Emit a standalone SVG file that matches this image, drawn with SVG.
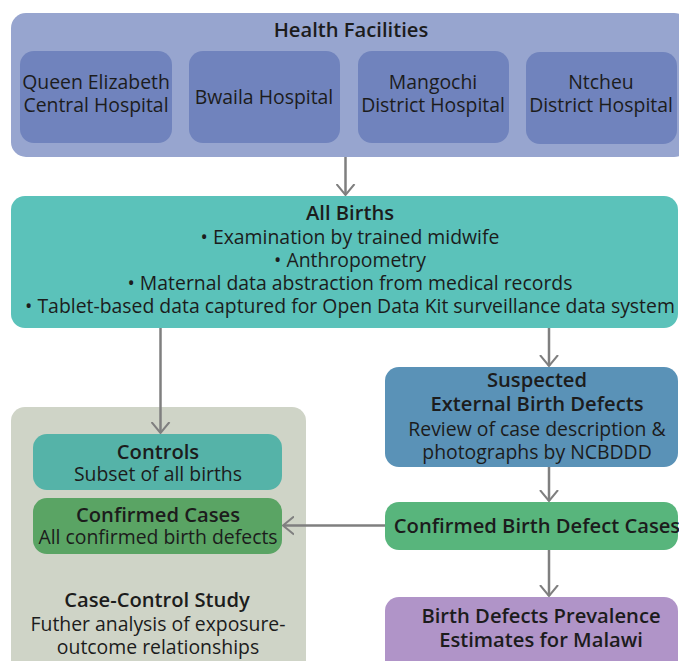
<svg xmlns="http://www.w3.org/2000/svg" width="679" height="661" viewBox="0 0 679 661">
  <defs>
    <marker id="arrow" viewBox="0 0 12 20" refX="11" refY="10" markerWidth="12" markerHeight="20" markerUnits="userSpaceOnUse" orient="auto">
      <path d="M0,1 L11,10 L0,19" fill="none" stroke="#7f7f7f" stroke-width="2"/>
    </marker>
    <style>
      text { font-family: "Open Sans", "Noto Sans", "DejaVu Sans", sans-serif; font-size: 19.4px; fill: #1c1c1c; text-anchor: middle; }
      .b { font-weight: 600; font-size: 20.2px; }
      .link { stroke: #7f7f7f; stroke-width: 2.5; fill: none; marker-end: url(#arrow); }
    </style>
  </defs>

  <!-- Health facilities -->
  <g id="health-facilities">
    <rect x="11" y="13" width="678" height="144" rx="15" fill="#97a5cf"/>
    <text class="b" x="351" y="37">Health Facilities</text>
  </g>
  <g id="queen-elizabeth">
    <rect x="20" y="51" width="152" height="92" rx="14" fill="#7083bd"/>
    <text x="96" y="89">Queen Elizabeth</text>
    <text x="96" y="112">Central Hospital</text>
  </g>
  <g id="bwaila">
    <rect x="189" y="51" width="151" height="92" rx="14" fill="#7083bd"/>
    <text x="264" y="104">Bwaila Hospital</text>
  </g>
  <g id="mangochi">
    <rect x="358" y="51" width="151" height="92" rx="14" fill="#7083bd"/>
    <text x="433" y="89">Mangochi</text>
    <text x="433" y="112">District Hospital</text>
  </g>
  <g id="ntcheu">
    <rect x="526" y="52" width="151" height="92" rx="14" fill="#7083bd"/>
    <text x="601" y="89">Ntcheu</text>
    <text x="601" y="112">District Hospital</text>
  </g>

  <!-- All births -->
  <g id="all-births">
    <rect x="11" y="196" width="667" height="132" rx="14" fill="#5bc2ba"/>
    <text class="b" x="350" y="220">All Births</text>
    <text x="350" y="244">• Examination by trained midwife</text>
    <text x="350" y="267">• Anthropometry</text>
    <text x="350" y="290">• Maternal data abstraction from medical records</text>
    <text x="350" y="313">• Tablet-based data captured for Open Data Kit surveillance data system</text>
  </g>

  <!-- Case-control study -->
  <g id="case-control-study">
    <rect x="11" y="407" width="295" height="270" rx="14" fill="#cfd4c7"/>
    <text class="b" x="157" y="607">Case-Control Study</text>
    <text x="158" y="631">Futher analysis of exposure-</text>
    <text x="158" y="654">outcome relationships</text>
  </g>
  <g id="controls">
    <rect x="33" y="434" width="249" height="56" rx="14" fill="#55b3a8"/>
    <text class="b" x="158" y="459">Controls</text>
    <text x="158" y="481">Subset of all births</text>
  </g>
  <g id="confirmed-cases">
    <rect x="33" y="498" width="249" height="56" rx="14" fill="#5aa464"/>
    <text class="b" x="158" y="522">Confirmed Cases</text>
    <text x="158" y="544">All confirmed birth defects</text>
  </g>

  <!-- Right-hand pipeline -->
  <g id="suspected">
    <rect x="385" y="367" width="293" height="100" rx="14" fill="#5a92b7"/>
    <text class="b" x="537" y="387">Suspected</text>
    <text class="b" x="537" y="411">External Birth Defects</text>
    <text x="537" y="436">Review of case description &amp;</text>
    <text x="537" y="459">photographs by NCBDDD</text>
  </g>
  <g id="confirmed-birth-defect-cases">
    <rect x="385" y="502" width="293" height="48" rx="14" fill="#58b57c"/>
    <text class="b" x="537" y="533">Confirmed Birth Defect Cases</text>
  </g>
  <g id="prevalence-estimates">
    <rect x="385" y="597" width="293" height="80" rx="14" fill="#b094c8"/>
    <text class="b" x="541" y="623">Birth Defects Prevalence</text>
    <text class="b" x="541" y="647">Estimates for Malawi</text>
  </g>

  <!-- Connectors -->
  <g id="connectors">
    <line class="link" x1="345.5" y1="157" x2="345.5" y2="195"/>
    <line class="link" x1="160.5" y1="328" x2="160.5" y2="433"/>
    <line class="link" x1="549" y1="328" x2="549" y2="366"/>
    <line class="link" x1="549" y1="467" x2="549" y2="501"/>
    <line class="link" x1="385" y1="525.5" x2="283" y2="525.5"/>
    <line class="link" x1="549" y1="550" x2="549" y2="596"/>
  </g>
</svg>
